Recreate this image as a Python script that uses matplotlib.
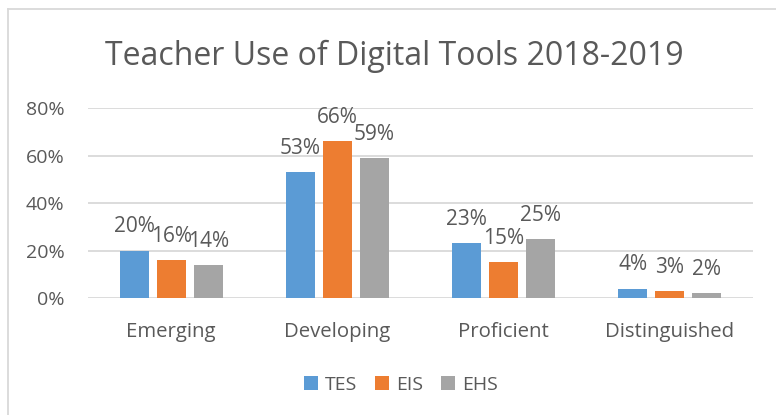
import matplotlib.pyplot as plt
import matplotlib.patches as patches
from matplotlib.lines import Line2D
import numpy as np

# Data
categories = ['Emerging', 'Developing', 'Proficient', 'Distinguished']
series_names = ['TES', 'EIS', 'EHS']
tes = [0.20, 0.53, 0.23, 0.04]
eis = [0.16, 0.66, 0.15, 0.03]
ehs = [0.14, 0.59, 0.25, 0.02]
y_ticks = [0, 0.2, 0.4, 0.6, 0.8]
y_tick_labels = ['0%', '20%', '40%', '60%', '80%']

colors = ['#5B9BD5', '#ED7D31', '#A5A5A5']
text_color = '#595959'
grid_color = '#D9D9D9'

plt.rcParams['font.family'] = ['Open Sans', 'DejaVu Sans']

W, H = 776, 415
fig = plt.figure(figsize=(W / 100, H / 100), dpi=100)
fig.patch.set_facecolor('white')

# plot area in pixel coords
left, right, top, bottom = 88, 753, 108, 298
ax = fig.add_axes([left / W, 1 - bottom / H, (right - left) / W, (bottom - top) / H])

x = np.arange(len(categories))
bar_w = 0.1744
step = 0.2226
for i, (name, vals) in enumerate(zip(series_names, [tes, eis, ehs])):
    pos = x + (i - 1) * step
    ax.bar(pos, vals, width=bar_w, color=colors[i], label=name, zorder=3)
    for xp, v in zip(pos, vals):
        ax.annotate(f'{int(round(v * 100))}%', (xp, v), xytext=(0, 13),
                    textcoords='offset points', ha='center', va='baseline',
                    fontsize=15, color=text_color)

ax.set_xlim(-0.5, 3.5)
ax.set_ylim(0, 0.8)
ax.set_yticks(y_ticks)
ax.set_yticklabels(y_tick_labels)
ax.set_xticks(x)
ax.set_xticklabels(categories)
ax.tick_params(axis='y', length=0, pad=17, labelsize=14, labelcolor=text_color)
ax.tick_params(axis='x', length=0, pad=17, labelsize=14.7, labelcolor=text_color)
ax.grid(axis='y', color=grid_color, linewidth=1.3, zorder=0)
for s in ax.spines.values():
    s.set_visible(False)
ax.set_facecolor('none')

# title
fig.text(394.5 / W, 1 - 65 / H, 'Teacher Use of Digital Tools 2018-2019',
         ha='center', va='baseline', fontsize=23, color=text_color)

# legend
handles = [patches.Patch(facecolor=c, edgecolor='none') for c in colors]
fig.legend(handles, series_names, loc='center', bbox_to_anchor=(401 / W, 1 - 385 / H),
           ncol=3, frameon=False, fontsize=14, labelcolor=text_color,
           handlelength=0.72, handleheight=0.72, handletextpad=0.36,
           columnspacing=0.93, borderaxespad=0, borderpad=0)

# chart border (left and top edges visible)
fig.add_artist(Line2D([7.5 / W, 7.5 / W], [0, 1 - 9.5 / H], transform=fig.transFigure,
                      color=grid_color, linewidth=1.3))
fig.add_artist(Line2D([7.5 / W, 1], [1 - 9.5 / H, 1 - 9.5 / H], transform=fig.transFigure,
                      color=grid_color, linewidth=1.3))

fig.savefig('out.png', dpi=100)
